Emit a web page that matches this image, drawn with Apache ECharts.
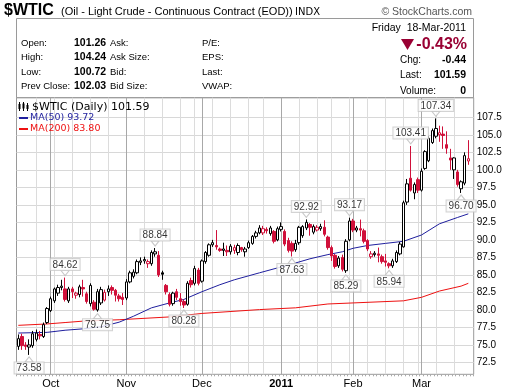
<!DOCTYPE html>
<html><head><meta charset="utf-8">
<script src="https://cdn.jsdelivr.net/npm/echarts@6/dist/echarts.min.js"></script>
<style>html,body{margin:0;padding:0;background:#fff}#c{width:520px;height:391px}</style>
</head><body><div id="c"></div>
<script>
// ---- calendar (trading days shown) ----
const firstDay = '2010-09-20';
const lastDay = '2011-03-18';
const holidays = ['2010-11-25', '2010-12-24', '2011-01-17', '2011-02-21'];
const monthNames = {'2010-10': 'Oct', '2010-11': 'Nov', '2010-12': 'Dec', '2011-01': '2011', '2011-02': 'Feb', '2011-03': 'Mar'};

// ---- daily OHLC ----
const opens = [74.8,76.2,75.0,74.7,74.9,75.8,76.5,76.2,78.2,79.9,81.3,82.4,83.2,83.0,81.3,83.0,82.1,82.2,83.2,82.3,80.9,81.1,80.0,81.0,81.4,82.6,83.2,82.8,82.0,81.8,
81.7,84.0,84.8,85.3,86.8,87.0,86.6,86.6,88.0,87.8,85.3,83.5,82.2,80.9,82.6,81.6,81.2,80.8,84.2,83.8,85.7,
84.1,86.9,87.8,89.3,89.2,88.7,88.5,88.5,88.3,88.5,88.2,88.9,88.3,88.9,89.5,90.5,91.0,91.0,91.5,90.9,91.2,90.0,
91.5,91.2,89.9,89.5,88.6,89.6,90.6,91.7,92.2,91.1,91.4,91.6,91.8,90.4,88.9,87.8,86.3,87.5,85.6,90.0,
92.7,91.4,91.6,91.3,89.9,87.6,87.9,88.0,87.6,87.0,86.6,86.3,86.9,88.0,89.0,95.4,98.8,96.7,98.6,
97.1,100.2,101.3,103.9,104.8,105.0,105.1,103.6,101.7,100.0,99.7,97.3,98.1,101.26];
const closes = [75.9,74.9,74.8,75.0,76.6,76.7,76.3,77.9,80.2,81.6,83.0,83.2,83.4,81.5,83.0,82.6,82.4,83.3,83.0,81.2,83.5,80.1,82.6,82.9,82.5,83.0,82.8,82.1,81.6,81.5,
84.0,85.3,85.4,86.9,87.0,87.2,86.9,88.2,88.3,85.0,85.1,82.6,80.8,82.4,81.8,81.2,80.7,83.8,83.6,85.9,83.8,
87.0,88.2,89.3,89.6,89.0,88.5,88.7,88.3,89.1,88.9,89.2,88.6,88.7,89.6,90.5,91.0,91.7,91.6,91.3,91.7,89.8,91.6,
91.9,89.4,88.5,88.4,89.5,91.8,91.9,92.5,91.8,91.9,91.8,91.9,90.8,88.9,87.7,86.2,87.4,85.8,89.8,92.7,
91.4,91.7,91.4,89.8,88.7,88.0,88.1,87.8,86.9,86.8,86.3,87.0,88.2,89.4,95.3,98.0,97.1,97.9,97.1,
99.8,102.6,104.5,105.6,105.9,105.3,104.9,103.1,101.4,101.7,97.9,98.3,102.03,101.59];
const highs = [76.5,76.6,75.4,75.8,77.0,77.2,77.0,78.2,80.4,81.9,83.2,83.6,84.3,84.62,83.3,83.3,82.6,83.6,84.3,82.6,83.8,81.4,83.0,83.3,82.9,83.5,83.5,83.0,82.3,82.4,
84.4,85.6,85.8,87.2,87.5,87.6,87.2,88.5,88.84,88.4,85.6,83.7,82.5,82.6,83.0,82.4,81.5,84.1,84.6,86.3,86.0,
87.2,88.4,89.5,90.0,91.4,88.9,89.6,89.2,89.4,89.3,89.5,89.0,89.0,89.9,90.7,91.3,92.1,92.0,91.8,92.0,91.4,91.9,
92.5,91.5,90.3,89.8,90.0,92.0,92.1,92.92,92.4,92.2,92.1,92.3,92.8,90.6,89.2,88.0,87.7,87.9,90.1,93.17,
93.0,92.0,92.9,91.6,90.1,88.4,88.4,88.9,87.9,88.0,86.8,87.3,88.5,89.7,95.6,98.7,103.41,98.2,98.9,
100.2,102.8,104.8,105.9,107.34,106.3,106.2,105.5,103.0,101.8,100.0,98.5,102.5,104.24];
const lows = [74.3,74.3,74.3,73.58,74.6,75.5,75.8,76.0,78.0,79.7,81.0,82.0,82.8,81.2,81.0,81.7,81.6,81.8,81.9,80.9,80.5,79.9,79.75,80.7,81.2,82.0,82.2,81.2,81.2,80.7,
81.4,83.8,84.5,85.1,86.4,86.6,86.0,86.3,87.6,84.7,84.3,82.2,80.5,80.6,81.4,80.6,80.28,80.6,83.2,83.5,83.5,
83.9,86.6,87.6,89.0,88.6,88.3,87.7,87.7,87.9,88.0,87.8,88.3,87.6,88.7,89.3,90.2,90.8,90.7,90.9,90.6,89.5,89.8,
91.2,89.1,88.2,87.63,88.3,89.3,90.3,91.4,90.6,90.8,91.2,91.3,90.5,88.6,87.0,85.9,86.0,85.5,85.29,89.8,
91.1,91.1,90.5,89.5,88.4,87.3,87.6,86.8,86.6,86.2,85.94,86.0,86.7,87.8,88.9,95.0,96.9,95.8,96.7,
96.9,100.0,101.1,103.7,104.5,104.0,103.0,102.3,100.0,98.7,97.6,96.70,97.8,100.72];

// ---- moving averages: [day index, value] ----
const ma50Points = [[0,76.7],[8,76.8],[13,77.1],[18,77.3],[23,77.6],[28,78.25],[32,79.1],[37,80.3],[42,81.0],[46,81.5],[51,82.6],[56,83.6],[60,84.3],[67,85.3],[77,86.7],[81,87.3],[86,87.9],[90,88.3],[93,88.8],[97,89.2],[102,89.5],[107,89.8],[112,90.7],[117,92.3],[122,93.2],[125,93.72]];
const ma200Points = [[0,77.8],[8,78.0],[13,78.2],[18,78.4],[28,78.6],[42,79.0],[51,79.5],[67,80.05],[77,80.3],[86,80.85],[93,81.0],[107,81.3],[112,81.8],[117,82.7],[123,83.4],[125,83.8]];

// ---- labelled highs / lows: [day index, value, side] ----
const peakLabels = [[3,73.58,'bottom'],[13,84.62,'top'],[22,79.75,'bottom'],[38,88.84,'top'],[46,80.28,'bottom'],[76,87.63,'bottom'],[80,92.92,'top'],[91,85.29,'bottom'],[92,93.17,'top'],[103,85.94,'bottom'],[109,103.41,'top'],[116,107.34,'top'],[123,96.70,'bottom']];

// ---- axis ticks ----
const yTicks = [72.5,75,77.5,80,82.5,85,87.5,90,92.5,95,97.5,100,102.5,105,107.5];

// build trading-day categories
function buildDays(a, b, skip) {
  const out = [];
  let d = new Date(a + 'T00:00:00Z');
  const end = new Date(b + 'T00:00:00Z');
  while (d <= end) {
    const s = d.toISOString().slice(0, 10);
    const w = d.getUTCDay();
    if (w !== 0 && w !== 6 && skip.indexOf(s) < 0) out.push(s);
    d = new Date(d.getTime() + 86400000);
  }
  return out;
}
const dates = buildDays(firstDay, lastDay, holidays);
const cats = dates.concat(['']);

function isMonthStart(i) {
  if (i <= 0 || i >= dates.length) return false;
  return dates[i].slice(0, 7) !== dates[i - 1].slice(0, 7);
}
function isWeekStart(i) {
  if (i <= 0 || i >= dates.length) return false;
  const a = new Date(dates[i] + 'T00:00:00Z').getUTCDay();
  const b = new Date(dates[i - 1] + 'T00:00:00Z').getUTCDay();
  return a <= b && !isMonthStart(i);
}

const RED = '#d0103a', BLACK = '#000';
const candleData = dates.map((d, i) => {
  const o = opens[i], c = closes[i];
  const down = i > 0 && c < closes[i - 1];
  const col = down ? RED : BLACK;
  const hollow = c >= o;
  return {
    value: [o, c, lows[i], highs[i]],
    itemStyle: {color: hollow ? '#fff' : col, color0: hollow ? '#fff' : col, borderColor: col, borderColor0: col}
  };
});

const labelData = peakLabels.map(p => ({
  value: [p[0], p[1]],
  label: {position: p[2]}
}));
const pointerData = peakLabels.map(p => ({
  value: [p[0], p[1]],
  symbolRotate: p[2] === 'top' ? 0 : 180,
  symbolOffset: [0, p[2] === 'top' ? -4.5 : 4.5]
}));

const chart = echarts.init(document.getElementById('c'), null, {renderer: 'canvas'});
const F = 'Liberation Sans, Arial, sans-serif';
const gridLeft = 16.5, gridTop = 97.7, gridRight = 520 - 473.7, gridBottom = 391 - 374.3;

function txt(x, y, text, opt) {
  opt = opt || {};
  return {
    type: 'text', x: x, y: y, silent: true, z: 100,
    style: {
      text: text, font: opt.font || ('9.5px ' + F), fill: opt.fill || '#000',
      align: opt.align || 'left', textAlign: opt.align || 'left',
      verticalAlign: 'middle', textVerticalAlign: 'middle'
    }
  };
}
const VB = 'bold 10.5px ' + F;

const graphics = [
  {type: 'rect', shape: {x: 16.5, y: 18.5, width: 457, height: 79.2}, style: {fill: 'none', stroke: '#9a9a9a', lineWidth: 1}, silent: true},
  txt(4, 11, '$WTIC', {font: 'bold 16px ' + F}),
  txt(61, 12, '(Oil - Light Crude - Continuous Contract (EOD))', {font: '11px ' + F}),
  txt(295, 12, 'INDX', {font: '10px DejaVu Sans, sans-serif'}),
  txt(472, 12, '\u00A9 StockCharts.com', {font: '10.5px ' + F, fill: '#555', align: 'right'}),
  // left block
  txt(21, 43, 'Open:'), txt(21, 57.5, 'High:'), txt(21, 72, 'Low:'), txt(21, 86.5, 'Prev Close:'),
  txt(74, 43, '101.26', {font: VB}), txt(74, 57.5, '104.24', {font: VB}),
  txt(74, 72, '100.72', {font: VB}), txt(74, 86.5, '102.03', {font: VB}),
  txt(110, 43, 'Ask:'), txt(110, 57.5, 'Ask Size:'), txt(110, 72, 'Bid:'), txt(110, 86.5, 'Bid Size:'),
  txt(202, 43, 'P/E:'), txt(202, 57.5, 'EPS:'), txt(202, 72, 'Last:'), txt(202, 86.5, 'VWAP:'),
  // right block
  txt(466, 28, 'Friday  18-Mar-2011', {font: '10.5px ' + F, align: 'right'}),
  {type: 'polygon', shape: {points: [[401, 39], [414, 39], [407.5, 50]]}, style: {fill: '#990033'}, silent: true, z: 100},
  txt(467, 44.5, '-0.43%', {font: 'bold 16px ' + F, fill: '#990033', align: 'right'}),
  txt(400, 60.5, 'Chg:', {font: '10px ' + F}), txt(466, 60.5, '-0.44', {font: VB, align: 'right'}),
  txt(400, 75, 'Last:', {font: '10px ' + F}), txt(466, 75, '101.59', {font: VB, align: 'right'}),
  txt(400, 91.5, 'Volume:', {font: '10px ' + F}), txt(466, 91.5, '0', {font: VB, align: 'right'}),
  // plot legend
  {type: 'group', silent: true, z: 100, children: [
    {type: 'line', shape: {x1: 19.5, y1: 102, x2: 19.5, y2: 111}, style: {stroke: '#000', lineWidth: 1}},
    {type: 'rect', shape: {x: 18.5, y: 104, width: 2, height: 5}, style: {fill: '#000'}},
    {type: 'line', shape: {x1: 23.5, y1: 102, x2: 23.5, y2: 111}, style: {stroke: '#000', lineWidth: 1}},
    {type: 'rect', shape: {x: 22.5, y: 103.5, width: 2, height: 5}, style: {fill: '#000'}},
    {type: 'line', shape: {x1: 27.5, y1: 103, x2: 27.5, y2: 111}, style: {stroke: '#000', lineWidth: 1}},
    {type: 'rect', shape: {x: 26.5, y: 105, width: 2, height: 4}, style: {fill: '#000'}}
  ]},
  txt(32, 107, '$WTIC (Daily) 101.59', {font: '11px DejaVu Sans, sans-serif'}),
  {type: 'rect', shape: {x: 19, y: 117, width: 9, height: 2}, style: {fill: '#1f1f9e'}, silent: true, z: 100},
  txt(30, 118, 'MA(50) 93.72', {font: '9.5px DejaVu Sans, sans-serif', fill: '#1f1f9e'}),
  {type: 'rect', shape: {x: 19, y: 128, width: 9, height: 2}, style: {fill: '#ee1111'}, silent: true, z: 100},
  txt(30, 129, 'MA(200) 83.80', {font: '9.5px DejaVu Sans, sans-serif', fill: '#ee1111'})
];

const option = {
  animation: false,
  backgroundColor: '#fff',
  grid: {left: gridLeft, top: gridTop, right: gridRight, bottom: gridBottom, show: true, borderColor: '#9a9a9a', borderWidth: 1, backgroundColor: 'transparent'},
  xAxis: [
    {
      type: 'category', data: cats, boundaryGap: true, position: 'bottom',
      axisLine: {show: false},
      axisTick: {show: true, interval: 0, length: 2, lineStyle: {color: '#aaa'}},
      axisLabel: {show: false},
      splitLine: {show: true, alignWithLabel: true, interval: (i) => isWeekStart(i), lineStyle: {color: '#dcdcdc', width: 1}}
    },
    {
      type: 'category', data: cats, boundaryGap: true, position: 'bottom',
      axisLine: {show: false}, axisTick: {show: false},
      axisLabel: {
        show: true, interval: (i) => isMonthStart(i), margin: 4,
        fontSize: 11, fontFamily: F, color: '#000',
        formatter: (v) => {
          const m = monthNames[v.slice(0, 7)] || '';
          return m === '2011' ? '{b|2011}' : m;
        },
        rich: {b: {fontWeight: 'bold', fontSize: 11, fontFamily: F, color: '#000'}}
      },
      splitLine: {show: true, alignWithLabel: true, interval: (i) => isMonthStart(i), lineStyle: {color: '#a8a8a8', width: 1}}
    }
  ],
  yAxis: {
    type: 'value', position: 'right', min: 70.81, max: 110.3, scale: true,
    axisLine: {show: false},
    axisTick: {show: false, customValues: yTicks},
    axisLabel: {customValues: yTicks, fontSize: 10, fontFamily: F, color: '#000', margin: 3, formatter: (v) => v.toFixed(1)},
    splitLine: {show: true, lineStyle: {color: '#d8d8d8', width: 1}}
  },
  series: [
    {type: 'line', name: 'MA(200)', data: ma200Points, xAxisIndex: 0, showSymbol: false, symbol: 'none', lineStyle: {color: '#ee1111', width: 1}, z: 2, silent: true},
    {type: 'line', name: 'MA(50)', data: ma50Points, xAxisIndex: 0, showSymbol: false, symbol: 'none', lineStyle: {color: '#1f1f9e', width: 1}, z: 2, silent: true},
    {type: 'candlestick', data: candleData, xAxisIndex: 0, barWidth: 3, z: 3, silent: true, itemStyle: {borderWidth: 1}},
    {
      type: 'scatter', data: pointerData, xAxisIndex: 0, z: 4, silent: true,
      symbol: 'path://M0,0 L10,0 L5,7 Z', symbolSize: [8, 5],
      itemStyle: {color: '#fff', borderColor: '#bbb', borderWidth: 1}
    },
    {
      type: 'scatter', data: labelData, xAxisIndex: 0, symbolSize: 1, itemStyle: {color: 'rgba(0,0,0,0)'}, z: 5, silent: true,
      label: {
        show: true, distance: 7, formatter: (p) => p.value[1].toFixed(2),
        fontSize: 10, fontFamily: F, color: '#000', backgroundColor: '#fff',
        borderColor: '#c8c8c8', borderWidth: 1, padding: [1, 2, 0, 2], lineHeight: 10
      }
    }
  ],
  graphic: graphics
};
chart.setOption(option);
</script>
</body></html>
